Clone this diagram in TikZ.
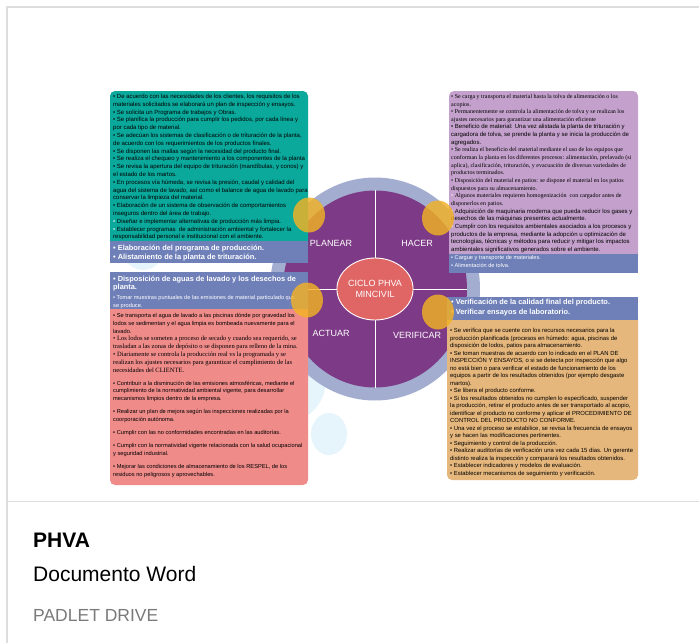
\documentclass[tikz,border=0pt]{standalone}
\usepackage{fontspec}
\setmainfont{Liberation Sans}
\newfontfamily\serifx{Liberation Serif}
\usetikzlibrary{shapes.geometric}
\definecolor{tealbox}{HTML}{0AA99C}
\definecolor{stripblue}{HTML}{6F80B8}
\definecolor{redbox}{HTML}{EF8C8A}
\definecolor{lilac}{HTML}{C4A1CC}
\definecolor{tanbox}{HTML}{E6B77C}
\definecolor{purp}{HTML}{7D3A86}
\definecolor{ringc}{HTML}{A3ADD0}
\definecolor{centrec}{HTML}{E06565}
\definecolor{yell}{HTML}{F2B224}
\definecolor{faint}{HTML}{E6F5FB}
\definecolor{cardline}{HTML}{DDDDDD}
\definecolor{greytxt}{HTML}{7A7A7A}
\newcommand{\sa}{\fontsize{6.0}{7.7}\selectfont}
\newcommand{\se}{\serifx\fontsize{6.0}{7.65}\selectfont}
\newcommand{\sr}{\serifx\fontsize{6.5}{7.8}\selectfont}
\newcommand{\wb}{\textcolor{white}{\textbullet}}
\begin{document}
\begin{tikzpicture}[x=1pt,y=-1pt,
  txt/.style={anchor=north west, inner sep=0pt, align=left, text=black, font=\sa},
  wtxt/.style={anchor=north west, inner sep=0pt, align=left, text=white},
  quad/.style={text=white, font=\fontsize{9}{10}\selectfont, inner sep=0pt},
  yellowdot/.style={ellipse, fill=yell, fill opacity=0.82, minimum width=32, minimum height=35, inner sep=0pt},
  faintdot/.style={ellipse, fill=faint, inner sep=0pt},
  cardtxt/.style={anchor=base west, inner sep=0pt}
]
\useasboundingbox (0,0) rectangle (699,643);
\fill[white] (0,0) rectangle (699,643);

% card frame
\coordinate (cbl) at (7,643);
\coordinate (ctl) at (7,7);
\coordinate (ctr) at (699,7);
\coordinate (sl) at (7,501.5);
\coordinate (sr) at (699,501.5);
\draw[cardline, line width=1.4] (cbl) -- (ctl) -- (ctr);
\draw[cardline, line width=1.4] (sl) -- (sr);

% faint background dots
\node[faintdot, minimum width=40, minimum height=40] (f1) at (143,250) {};
\node[faintdot, minimum width=80, minimum height=84] (f2) at (286,380) {};
\node[faintdot, minimum width=36, minimum height=42] (f3) at (329,434) {};

% cycle
\node[ellipse, fill=ringc, minimum width=210, minimum height=223, inner sep=0pt] (ring) at (375,289) {};
\node[ellipse, fill=purp, minimum width=184, minimum height=197, inner sep=0pt] (disk) at (375,289) {};
\draw[white, line width=0.8] (disk.north) -- (disk.south);
\draw[white, line width=0.8] (disk.west) -- (disk.east);
\node[ellipse, fill=centrec, draw=white, line width=0.9, minimum width=58, minimum height=62, inner sep=0pt,
      align=center, text=white, font=\fontsize{9}{10.5}\selectfont] (centre) at (375,289) {CICLO PHVA\\MINCIVIL};
\node[quad] (planear) at (331,243) {PLANEAR};
\node[quad] (hacer) at (417,243) {HACER};
\node[quad] (actuar) at (331,333) {ACTUAR};
\node[quad] (verificar) at (417,335) {VERIFICAR};

% left column boxes
\fill[tealbox, rounded corners=5] (110,91) rectangle (308,250);
\fill[stripblue] (110,241) rectangle (308,263);
\fill[redbox, rounded corners=5] (110,300) rectangle (308,485);
\fill[stripblue] (110,272) rectangle (308,309);
% right column boxes
\fill[lilac, rounded corners=5] (449,91) rectangle (638,262);
\fill[stripblue] (449,254) rectangle (638,273);
\fill[tanbox, rounded corners=5] (447,312) rectangle (638,480);
\fill[stripblue] (447,297) rectangle (638,320);

% PLANEAR text
\node[txt, font=\fontsize{6.0}{7.8}\selectfont] (planT) at (113,94) {%
• De acuerdo con las necesidades de los clientes, los requisitos de los\\
materiales solicitados se elaborará un plan de inspección y ensayos.\\
• Se solicita un Programa de trabajos y Obras.\\
• Se planifica la producción para cumplir los pedidos, por cada línea y\\
por cada tipo de material.\\
• Se adecúan los sistemas de clasificación o de trituración de la planta,\\
de acuerdo con los requerimientos de los productos finales.\\
• Se disponen las mallas según la necesidad del producto final.\\
• Se realiza el chequeo y mantenimiento a los componentes de la planta\\
• Se revisa la apertura del equipo de trituración (mandíbulas, y conos) y\\
el estado de los martos.\\
• En procesos vía húmeda, se revisa la presión, caudal y calidad del\\
agua del sistema de lavado, así como el balance de agua de lavado para\\
conservar la limpieza del material.\\
• Elaboración de un sistema de observación de comportamientos\\
inseguros dentro del área de trabajo.\\
\wb\ Diseñar e implementar alternativas de producción más limpia.\\
\wb\ Establecer programas\ \ de administración ambiental y fortalecer la\\
responsabilidad personal e institucional con el ambiente.};
\node[wtxt, font=\bfseries\fontsize{7.4}{9}\selectfont] (planS) at (113,245) {%
• Elaboración del programa de producción.\\
• Alistamiento de la planta de trituración.};

% ACTUAR text
\node[wtxt, font=\bfseries\fontsize{7.4}{8.5}\selectfont] (actH) at (113,275.5) {%
• Disposición de aguas de lavado y los desechos de\\
planta.};
\node[wtxt, font=\fontsize{5.6}{7.8}\selectfont] (actH2) at (113,295) {%
• Tomar muestras puntuales de las emisiones de material particulado que\\
se produce.};
\node[txt, font=\fontsize{5.7}{7.8}\selectfont] (actT) at (113,313) {%
• Se transporta el agua de lavado a las piscinas dónde por gravedad los\\
lodos se sedimentan y el agua limpia es bombeada nuevamente para el\\
lavado.\\
{\sr • Los lodos se someten a proceso de secado y cuando sea requerido, se}\\
{\sr trasladan a las zonas de depósito o se disponen para relleno de la mina.}\\
{\sr • Diariamente se controla la producción real vs la programada y se}\\
{\sr realizan los ajustes necesarios para garantizar el cumplimiento de las}\\
{\sr necesidades del CLIENTE.}\\[5.2pt]
• Contribuir a la disminución de las emisiones atmosféricas, mediante el\\
cumplimiento de la normatividad ambiental vigente, para desarrollar\\
mecanismos limpios dentro de la empresa.\\[5.2pt]
• Realizar un plan de mejora según las inspecciones realizadas por la\\
coorporación autónoma.\\[5.2pt]
• Cumplir con las no conformidades encontradas en las auditorías.\\[5.2pt]
• Cumplir con la normatividad vigente relacionada con la salud ocupacional\\
y seguridad industrial.\\[5.2pt]
• Mejorar las condiciones de almacenamiento de los RESPEL, de los\\
residuos no peligrosos y aprovechables.};

% HACER text
\node[txt, font=\fontsize{6.0}{7.65}\selectfont] (hacT) at (451,94) {%
{\se • Se carga y transporta el material hasta la tolva de alimentación o los}\\
{\se acopios.}\\
{\se • Permanentemente se controla la alimentación de tolva y se realizan los}\\
{\se ajustes necesarios para garantizar una alimentación eficiente}\\
• Beneficio de material: Una vez alistada la planta de trituración y\\
cargadora de tolva, se prende la planta y se inicia la producción de\\
agregados.\\
{\se • Se realiza el beneficio del material mediante el uso de los equipos que}\\
{\se conforman la planta en los diferentes procesos: alimentación, prelavado (si}\\
{\se aplica), clasificación, trituración, y evacuación de diversas variedades de}\\
{\se productos terminados.}\\
{\se • Disposición del material en patios: se dispone el material en los patios}\\
{\se dispuestos para su almacenamiento.}\\
{\se \wb\ Algunos materiales requieren homogenización\ \ con cargador antes de}\\
{\se disponerlos en patios.}\\
\wb\ Adquisición de maquinaria moderna que pueda reducir los gases y\\
desechos de las máquinas presentes actualmente.\\
\wb\ Cumplir con los requisitos ambientales asociados a los procesos y\\
productos de la empresa, mediante la adopción u optimización de\\
tecnologías, técnicas y métodos para reducir y mitigar los impactos\\
ambientales significativos generados sobre el ambiente.};
\node[wtxt, font=\fontsize{5.6}{8}\selectfont] (hacS) at (451,255.5) {%
• Cargue y transporte de materiales.\\
• Alimentación de tolva.};

% VERIFICAR text
\node[wtxt, font=\bfseries\fontsize{7.4}{10}\selectfont] (verH) at (451,298.5) {%
• Verificación de la calidad final del producto.\\
• Verificar ensayos de laboratorio.};
\node[txt, font=\fontsize{5.9}{7.5}\selectfont] (verT) at (450,328.5) {%
• Se verifica que se cuente con los recursos necesarios para la\\
producción planificada (procesos en húmedo: agua, piscinas de\\
disposición de lodos, patios para almacenamiento.\\
• Se toman muestras de acuerdo con lo indicado en el PLAN DE\\
INSPECCIÓN Y ENSAYOS, o si se detecta por inspección que algo\\
no está bien o para verificar el estado de funcionamiento de los\\
equipos a partir de los resultados obtenidos (por ejemplo desgaste\\
martos).\\
• Se libera el producto conforme.\\
• Si los resultados obtenidos no cumplen lo especificado, suspender\\
la producción, retirar el producto antes de ser transportado al acopio,\\
identificar el producto no conforme y aplicar el PROCEDIMIENTO DE\\
CONTROL DEL PRODUCTO NO CONFORME.\\
• Una vez el proceso se estabilice, se revisa la frecuencia de ensayos\\
y se hacen las modificaciones pertinentes.\\
• Seguimiento y control de la producción.\\
• Realizar auditorías de verificación una vez cada 15 días. Un gerente\\
distinto realiza la inspección y comparará los resultados obtenidos.\\
• Establecer indicadores y modelos de evaluación.\\
• Establecer mecanismos de seguimiento y verificación.};

% yellow dots
\node[yellowdot] (y1) at (309,215) {};
\node[yellowdot] (y2) at (438,218) {};
\node[yellowdot] (y3) at (307,300) {};
\node[yellowdot] (y4) at (438,312) {};

% card caption
\node[cardtxt, font=\bfseries\fontsize{21}{24}\selectfont] (title) at (33,547) {PHVA};
\node[cardtxt, font=\fontsize{21}{24}\selectfont] (sub) at (33,581) {Documento Word};
\node[cardtxt, font=\fontsize{17.5}{20}\selectfont, text=greytxt] (src) at (33,621) {PADLET DRIVE};
\end{tikzpicture}
\end{document}
